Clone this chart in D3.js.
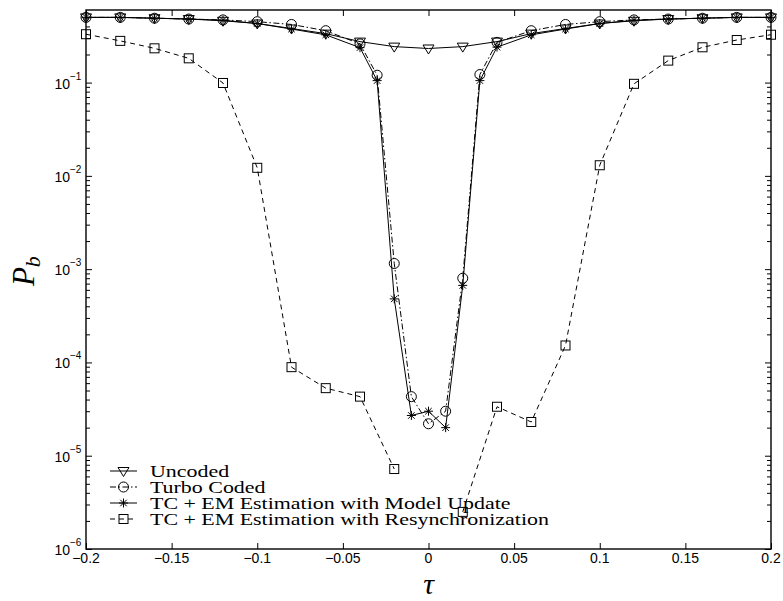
<!DOCTYPE html>
<html>
<head>
<meta charset="utf-8">
<script src="https://cdn.jsdelivr.net/npm/d3@7"></script>
<style>
  body { margin: 0; background: #fff; }
  svg { display: block; }
  .ticklab { font-family: "Liberation Sans", Arial, Helvetica, sans-serif; font-size: 14px; fill: #000; }
  .legtext { font-family: "Liberation Serif", "Times New Roman", serif; font-size: 17px; fill: #000; }
  .axlabel { font-family: "Liberation Serif", "Times New Roman", serif; font-style: italic; fill: #000; }
</style>
</head>
<body>
<svg id="chart" width="783" height="601"></svg>
<script>
// timing offsets (coarse grid, and the finer grid used near zero)
const tauCoarse = [-0.2, -0.18, -0.16, -0.14, -0.12, -0.1, -0.08, -0.06, -0.04, -0.02, 0,
  0.02, 0.04, 0.06, 0.08, 0.1, 0.12, 0.14, 0.16, 0.18, 0.2];
const tauFine = [-0.2, -0.18, -0.16, -0.14, -0.12, -0.1, -0.08, -0.06, -0.04, -0.03, -0.02, -0.01, 0,
  0.01, 0.02, 0.03, 0.04, 0.06, 0.08, 0.1, 0.12, 0.14, 0.16, 0.18, 0.2];

const uncoded = [0.50, 0.50, 0.49, 0.48, 0.46, 0.43, 0.38, 0.335, 0.275, 0.243, 0.232,
  0.243, 0.275, 0.335, 0.38, 0.43, 0.46, 0.48, 0.49, 0.50, 0.50];
const turbo = [0.50, 0.50, 0.49, 0.48, 0.47, 0.45, 0.42, 0.36, 0.26, 0.12, 1.15e-3, 4.3e-5, 2.2e-5,
  3.0e-5, 8.0e-4, 0.122, 0.27, 0.36, 0.42, 0.45, 0.47, 0.48, 0.49, 0.50, 0.50];
const modelUpdate = [0.50, 0.50, 0.49, 0.48, 0.465, 0.43, 0.375, 0.325, 0.237, 0.105, 4.8e-4, 2.7e-5, 3.0e-5,
  2.0e-5, 6.7e-4, 0.105, 0.24, 0.325, 0.375, 0.43, 0.465, 0.48, 0.49, 0.50, 0.50];
// no point at tau = 0 (line is broken there)
const resync = [0.33, 0.28, 0.233, 0.182, 0.099, 0.0122, 8.9e-5, 5.3e-5, 4.3e-5, 7.2e-6, null,
  2.5e-6, 3.35e-5, 2.3e-5, 1.52e-4, 0.013, 0.097, 0.172, 0.239, 0.286, 0.326];

const xTicks = [-0.2, -0.15, -0.1, -0.05, 0, 0.05, 0.1, 0.15, 0.2];
const xTickLabels = ["\u22120.2", "\u22120.15", "\u22120.1", "\u22120.05", "0", "0.05", "0.1", "0.15", "0.2"];
const yTicks = [1e-6, 1e-5, 1e-4, 1e-3, 1e-2, 1e-1];
const yTickExps = ["\u22126", "\u22125", "\u22124", "\u22123", "\u22122", "\u22121"];

const legendNames = ["Uncoded", "Turbo Coded", "TC + EM Estimation with Model Update",
  "TC + EM Estimation with Resynchronization"];

const margin = {left: 86, top: 10, right: 12, bottom: 52};
const totalW = 783, totalH = 601;
const W = totalW - margin.left - margin.right;
const H = totalH - margin.top - margin.bottom;

const svg = d3.select('#chart');
const g = svg.append('g').attr('transform', `translate(${margin.left},${margin.top})`);

const xscale = d3.scaleLinear().domain([-0.2, 0.2]).range([0, W]);
const yscale = d3.scaleLog().domain([1e-6, 0.6]).range([H, 0]);

// minor log ticks 2..9 per decade
let minor = [];
for (let e = -6; e <= -1; e++) {
  for (let k = 2; k <= 9; k++) {
    let v = k * Math.pow(10, e);
    if (v <= 0.6) minor.push(v);
  }
}

// ticks point inward on all four sides
function tickAxis(axis, tx, ty) {
  let a = g.append('g').attr('transform', `translate(${tx},${ty})`).call(axis);
  a.select('.domain').remove();
  a.selectAll('line').attr('stroke', '#000').attr('stroke-width', 1);
  a.selectAll('text').remove();
  return a;
}
tickAxis(d3.axisBottom(xscale).tickValues(xTicks).tickSize(-6), 0, H);
tickAxis(d3.axisTop(xscale).tickValues(xTicks).tickSize(-6), 0, 0);
tickAxis(d3.axisLeft(yscale).tickValues(yTicks).tickSize(-6), 0, 0);
tickAxis(d3.axisRight(yscale).tickValues(yTicks).tickSize(-6), W, 0);
tickAxis(d3.axisLeft(yscale).tickValues(minor).tickSize(-4), 0, 0);
tickAxis(d3.axisRight(yscale).tickValues(minor).tickSize(-4), W, 0);

g.append('rect')
  .attr('width', W).attr('height', H)
  .attr('fill', 'none').attr('stroke', '#000').attr('stroke-width', 1.4);

// x tick labels
g.selectAll('.xlab').data(xTicks).enter().append('text')
  .attr('class', 'ticklab')
  .attr('x', d => xscale(d))
  .attr('y', H + 14)
  .attr('text-anchor', 'middle')
  .text((d, i) => xTickLabels[i]);

// y tick labels: 10 with superscript exponent
yTicks.forEach((v, i) => {
  g.append('text')
    .attr('class', 'ticklab')
    .attr('x', -16)
    .attr('y', yscale(v) + 6)
    .attr('text-anchor', 'end')
    .text('10');
  g.append('text')
    .attr('class', 'ticklab')
    .attr('x', -16)
    .attr('y', yscale(v) - 3)
    .style('font-size', '10px')
    .text(yTickExps[i]);
});

// axis labels
svg.append('text')
  .attr('class', 'axlabel')
  .attr('transform', `translate(34,${margin.top + yscale(1e-3) + 2}) rotate(-90)`)
  .attr('text-anchor', 'middle')
  .style('font-size', '31px')
  .call(t => {
    t.append('tspan').text('P');
    t.append('tspan').attr('dy', 6).style('font-size', '22px').text('b');
  });
svg.append('text')
  .attr('class', 'axlabel')
  .attr('x', margin.left + xscale(0))
  .attr('y', 594)
  .attr('text-anchor', 'middle')
  .style('font-size', '30px')
  .text('\u03c4');

// markers
function drawMarker(sel, type) {
  if (type === 'tri') {
    sel.append('path').attr('d', 'M-5.5,-3.5L5.5,-3.5L0,5.5Z');
  } else if (type === 'circle') {
    sel.append('circle').attr('r', 5);
  } else if (type === 'star') {
    let r = 4.5, d = r * 0.72;
    sel.append('path').attr('d',
      `M${-r},0L${r},0M0,${-r}L0,${r}M${-d},${-d}L${d},${d}M${-d},${d}L${d},${-d}`);
  } else if (type === 'square') {
    sel.append('rect').attr('x', -4.5).attr('y', -4.5).attr('width', 9).attr('height', 9);
  }
  sel.selectAll('*').attr('fill', 'none').attr('stroke', '#000').attr('stroke-width', 1);
}

const series = [
  {name: legendNames[0], x: tauCoarse, y: uncoded, dash: null, marker: 'tri'},
  {name: legendNames[1], x: tauFine, y: turbo, dash: '6,2.5,1.5,2.5', marker: 'circle'},
  {name: legendNames[2], x: tauFine, y: modelUpdate, dash: null, marker: 'star'},
  {name: legendNames[3], x: tauCoarse, y: resync, dash: '5,4', marker: 'square'},
];

const line = d3.line()
  .defined(d => d[1] !== null)
  .x(d => xscale(d[0]))
  .y(d => yscale(d[1]));

series.forEach(s => {
  let pts = s.x.map((x, i) => [x, s.y[i]]);
  g.append('path')
    .datum(pts)
    .attr('fill', 'none')
    .attr('stroke', '#000')
    .attr('stroke-width', 1)
    .attr('stroke-dasharray', s.dash)
    .attr('d', line);
  pts.filter(p => p[1] !== null).forEach(p => {
    let m = g.append('g').attr('transform', `translate(${xscale(p[0])},${yscale(p[1])})`);
    drawMarker(m, s.marker);
  });
});

// legend (no box)
const legend = svg.append('g').classed('legend', true);
series.forEach((s, i) => {
  let cy = 471 + i * 16;
  legend.append('line')
    .attr('x1', 110).attr('x2', 137).attr('y1', cy).attr('y2', cy)
    .attr('stroke', '#000').attr('stroke-width', 1)
    .attr('stroke-dasharray', s.dash);
  let m = legend.append('g').attr('transform', `translate(123.5,${cy})`);
  drawMarker(m, s.marker);
  legend.append('text')
    .attr('class', 'legtext')
    .attr('transform', `translate(150,${cy + 5.5}) scale(1.29,1)`)
    .text(s.name);
});
</script>
</body>
</html>
